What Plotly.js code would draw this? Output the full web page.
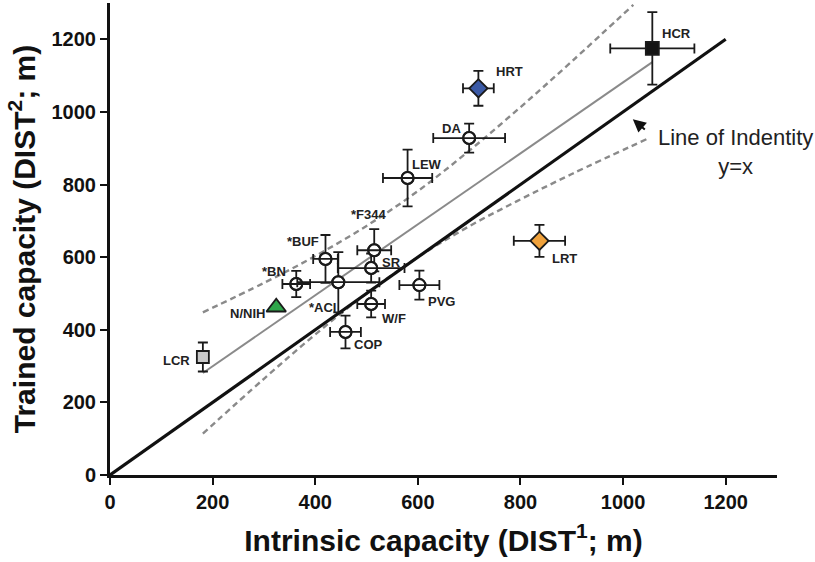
<!DOCTYPE html>
<html>
<head>
<meta charset="utf-8">
<script src="https://cdn.plot.ly/plotly-3.0.1.min.js"></script>
<style>html,body{margin:0;padding:0;background:#fff;}#chart{width:815px;height:562px;}</style>
</head>
<body>
<div id="chart"></div>
<script>
// ---- data ----
const strains      = ['HCR','HRT','DA','LEW','*F344','*BUF','*BN','N/NIH','*ACI','SR','W/F','PVG','COP','LRT','LCR'];
const intrinsic    = [1057, 718, 700, 580, 515, 420, 363, 324, 445, 509, 509, 603, 459, 837, 181];
const trained      = [1175,1065, 928, 818, 619, 595, 526, 462, 531, 570, 471, 523, 394, 645, 325];
const intrinsicErr = [  82,  30,  70,  48,  33,  24,  27,   0,  80,  65,  27,  39,  30,  50,   8];
const trainedErr   = [ 100,  48,  40,  78,  58,  66,  36,   0,  83,  40,  37,  40,  45,  44,  40];

// regression line and its 95% confidence band
const fitX = [181, 1057];
const fitY = [281, 1137];
const bandUpperX = [181, 300, 400, 500, 600, 700, 800, 900, 1020];
const bandUpperY = [448, 529, 603, 686, 782, 893, 1013, 1139, 1295];
const bandLowerX = [181, 300, 400, 500, 600, 700, 800, 900, 1052];
const bandLowerY = [114, 265, 387, 500, 600, 685, 759, 829, 929];

// line of identity
const identityX = [0, 1200];
const identityY = [0, 1200];

const xTicks = [0, 200, 400, 600, 800, 1000, 1200];
const yTicks = [0, 200, 400, 600, 800, 1000, 1200];

// ---- styles ----
const styleFor = {
  'HCR':   {symbol:'square',        fill:'#141414', size:13},
  'HRT':   {symbol:'diamond',       fill:'#3b5aa6', size:14},
  'LRT':   {symbol:'diamond',       fill:'#f0a23c', size:14},
  'N/NIH': {symbol:'triangle-up',   fill:'#2ea64a', size:17},
  'LCR':   {symbol:'square',        fill:'#c9c9c9', size:12}
};
const circleSize = 12;

// label offsets in pixels relative to marker (dx right, dy up)
const labelOffset = {
  'HCR':[24,15],'HRT':[31,17],'DA':[-18,10],'LEW':[19,14],'*F344':[-6,36],
  '*BUF':[-22,17],'*BN':[-22,13],'N/NIH':[-29,-6],'*ACI':[-16,-25],'SR':[20,6],
  'W/F':[23,-15],'PVG':[22,-16],'COP':[23,-13],'LRT':[25,-18],'LCR':[-26,-3]
};

const allIdx = strains.map((s,i)=>i);
const hasErr = i => intrinsicErr[i] > 0 || trainedErr[i] > 0;
const special = allIdx.filter(i => styleFor[strains[i]] && hasErr(i));
const specialNoErr = allIdx.filter(i => styleFor[strains[i]] && !hasErr(i));
const circles = allIdx.filter(i => !styleFor[strains[i]]);

const ink = '#1a1a1a';
function errBar(arr){ return {type:'data', array:arr, color:ink, thickness:1.8, width:5}; }

function specialTrace(idx, errors) {
  const st = idx.map(i => styleFor[strains[i]]);
  const t = {
    type:'scatter', mode:'markers', hoverinfo:'skip', cliponaxis:false,
    x: idx.map(i=>intrinsic[i]), y: idx.map(i=>trained[i]),
    marker:{symbol: st.map(s=>s.symbol), color: st.map(s=>s.fill), size: st.map(s=>s.size),
            opacity:1, line:{color:ink, width:1.8}}
  };
  if (errors) {
    t.error_x = errBar(idx.map(i=>intrinsicErr[i]));
    t.error_y = errBar(idx.map(i=>trainedErr[i]));
  }
  return t;
}

// open circles: vertical bars hidden by white fill, horizontal bar drawn through
const circleV = {
  type:'scatter', mode:'markers', hoverinfo:'skip', cliponaxis:false,
  x: circles.map(i=>intrinsic[i]), y: circles.map(i=>trained[i]),
  marker:{symbol:'circle', color:'#fff', size:circleSize, opacity:1, line:{color:ink, width:2}},
  error_y: errBar(circles.map(i=>trainedErr[i]))
};
const circleH = {
  type:'scatter', mode:'markers', hoverinfo:'skip', cliponaxis:false,
  x: circles.map(i=>intrinsic[i]), y: circles.map(i=>trained[i]),
  marker:{symbol:'circle', color:'rgba(0,0,0,0)', size:circleSize, opacity:1, line:{color:ink, width:2}},
  error_x: errBar(circles.map(i=>intrinsicErr[i]))
};

const bandLine = {color:'#8a8a8a', width:2.4, dash:'6px,4px', shape:'spline'};
const traces = [
  {type:'scatter', mode:'lines', x:bandUpperX, y:bandUpperY, line:bandLine, hoverinfo:'skip'},
  {type:'scatter', mode:'lines', x:bandLowerX, y:bandLowerY, line:bandLine, hoverinfo:'skip'},
  {type:'scatter', mode:'lines', x:identityX, y:identityY, line:{color:'#111', width:3.2}, hoverinfo:'skip'},
  {type:'scatter', mode:'lines', x:fitX, y:fitY, line:{color:'#8a8a8a', width:2}, hoverinfo:'skip'},
  circleV, circleH,
  specialTrace(special, true),
  specialTrace(specialNoErr, false)
];

const labelFont = {family:'Liberation Sans, Arial, sans-serif', size:13, color:'#222'};
const annotations = strains.map((s,i)=>({
  x:intrinsic[i], y:trained[i], text:'<b>'+s+'</b>', showarrow:false,
  xshift:labelOffset[s][0], yshift:labelOffset[s][1], font:labelFont
}));
annotations.push({
  x:1019, y:980, ax:15, ay:13, axref:'pixel', ayref:'pixel',
  showarrow:true, arrowhead:2, arrowsize:1.3, arrowwidth:2, arrowcolor:'#111', text:' '
});
annotations.push({
  x:1220, y:889, text:'Line of Indentity<br>y=x', showarrow:false,
  font:{family:'Liberation Sans, Arial, sans-serif', size:22, color:'#222'}
});

const tickFont = {family:'Liberation Sans, Arial, sans-serif', size:20, color:'#111', weight:'bold'};
const titleFont = {family:'Liberation Sans, Arial, sans-serif', size:30, color:'#111', weight:'bold'};

const layout = {
  width:815, height:562,
  margin:{l:110, r:38, t:3, b:87},
  paper_bgcolor:'#fff', plot_bgcolor:'#fff',
  showlegend:false,
  xaxis:{
    range:[0,1300], tickvals:xTicks, ticktext:xTicks.map(String),
    showgrid:false, zeroline:false, showline:true, linecolor:'#111', linewidth:3,
    ticks:'outside', ticklen:7, tickwidth:2, tickcolor:'#111', tickfont:tickFont,
    title:{text:'<b>Intrinsic capacity (DIST<sup>1</sup>; m)</b>', font:titleFont, standoff:18}
  },
  yaxis:{
    range:[0,1300], tickvals:yTicks, ticktext:yTicks.map(String),
    showgrid:false, zeroline:false, showline:true, linecolor:'#111', linewidth:3,
    ticks:'outside', ticklen:7, tickwidth:2, tickcolor:'#111', tickfont:tickFont,
    title:{text:'<b>Trained capacity (DIST<sup>2</sup>; m)</b>', font:titleFont, standoff:8}
  },
  annotations:annotations
};

Plotly.newPlot('chart', traces, layout, {displayModeBar:false, staticPlot:true});
</script>
</body>
</html>
